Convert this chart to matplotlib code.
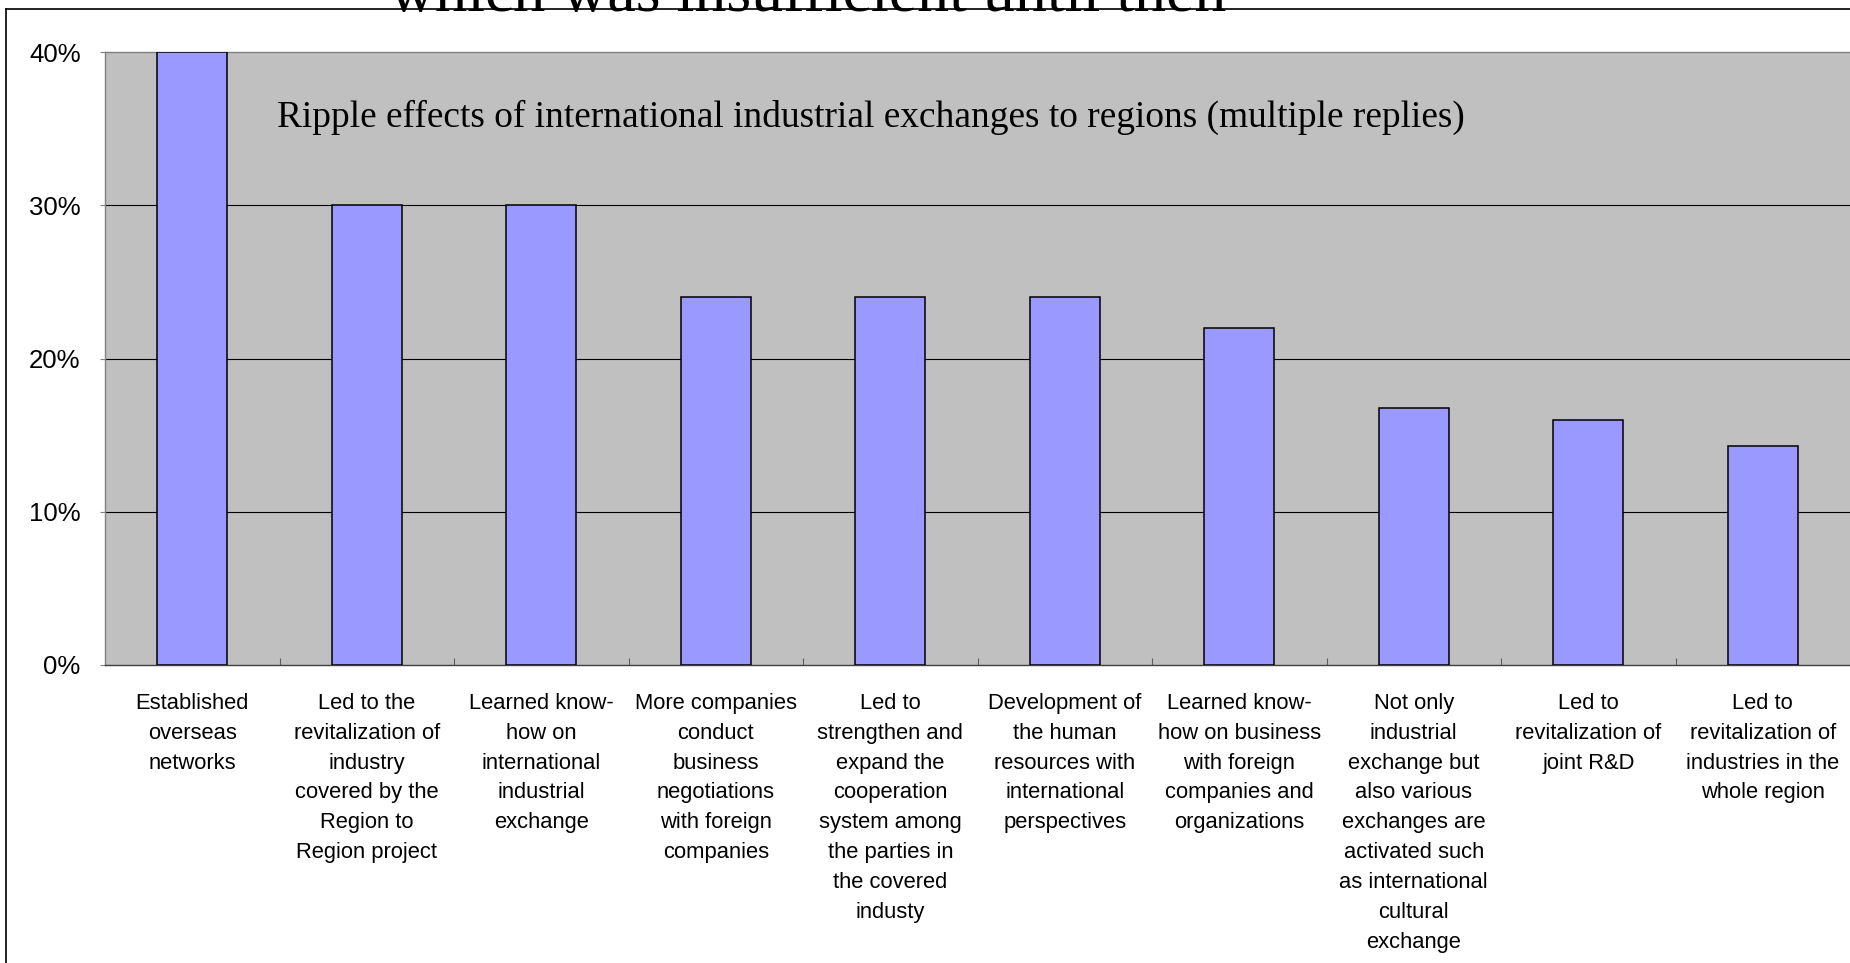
import numpy as np
import matplotlib
matplotlib.use("Agg")
import matplotlib.pyplot as plt
from matplotlib.lines import Line2D

categories = [
    "Established\noverseas\nnetworks",
    "Led to the\nrevitalization of\nindustry\ncovered by the\nRegion to\nRegion project",
    "Learned know-\nhow on\ninternational\nindustrial\nexchange",
    "More companies\nconduct\nbusiness\nnegotiations\nwith foreign\ncompanies",
    "Led to\nstrengthen and\nexpand the\ncooperation\nsystem among\nthe parties in\nthe covered\nindusty",
    "Development of\nthe human\nresources with\ninternational\nperspectives",
    "Learned know-\nhow on business\nwith foreign\ncompanies and\norganizations",
    "Not only\nindustrial\nexchange but\nalso various\nexchanges are\nactivated such\nas international\ncultural\nexchange",
    "Led to\nrevitalization of\njoint R&D",
    "Led to\nrevitalization of\nindustries in the\nwhole region",
]
values = [40.0, 30.0, 30.0, 24.0, 24.0, 24.0, 22.0, 16.8, 16.0, 14.3]
yticks = [0, 10, 20, 30, 40]
ytick_labels = ["0%", "10%", "20%", "30%", "40%"]
title_top = "which was insufficient until then"
title_inner = "Ripple effects of international industrial exchanges to regions (multiple replies)"

W, H = 1850, 963
fig = plt.figure(figsize=(W / 100, H / 100), dpi=100)
fig.patch.set_facecolor("white")

ax = fig.add_axes([105 / W, 1 - 665 / H, 1 - 105 / W, (665 - 52) / H])
ax.set_facecolor("#C0C0C0")

x = np.arange(len(values))
ax.bar(x, values, width=0.40, color="#9999FF", edgecolor="black", linewidth=1.1, zorder=3)

for v in yticks[1:-1]:
    ax.axhline(v, color="black", linewidth=0.8, zorder=1)

ax.set_xlim(-0.5, len(values) - 0.5)
ax.set_ylim(0, 40)

ax.set_yticks(yticks)
ax.set_yticklabels(ytick_labels, fontsize=18.5, family="Liberation Sans")
ax.tick_params(axis="y", direction="out", length=3.6, width=0.8, color="#808080", pad=14)

ax.set_xticks(x)
ax.set_xticklabels(categories, fontsize=15.8, family="Liberation Sans", linespacing=1.555, va="top")
ax.tick_params(axis="x", length=0, pad=20)
ax.set_xticks(np.arange(0.5, len(values) - 1, 1.0), minor=True)
ax.tick_params(axis="x", which="minor", direction="in", length=5, width=0.8, color="#606060")

ax.spines["right"].set_visible(False)
ax.spines["top"].set_color("#808080")
ax.spines["left"].set_color("#808080")
ax.spines["bottom"].set_color("#404040")
for s in ["top", "left", "bottom"]:
    ax.spines[s].set_linewidth(1.0)

ax.text(277 / W, 1 - 127 / H, title_inner, transform=fig.transFigure,
        fontsize=26.9, family="Liberation Serif", va="baseline", ha="left")

# title above the chart, cropped at the top edge in the original
fig.text(808 / W, 1 - 11 / H, title_top, fontsize=46, family="Liberation Serif",
         va="baseline", ha="center")

# outer chart frame (cropped on right and bottom)
fig.add_artist(Line2D([6 / W, 1.0], [1 - 9 / H, 1 - 9 / H], transform=fig.transFigure,
                      color="black", linewidth=1.2))
fig.add_artist(Line2D([6 / W, 6 / W], [0, 1 - 9 / H], transform=fig.transFigure,
                      color="black", linewidth=1.2))

fig.savefig("out.png", dpi=100)
